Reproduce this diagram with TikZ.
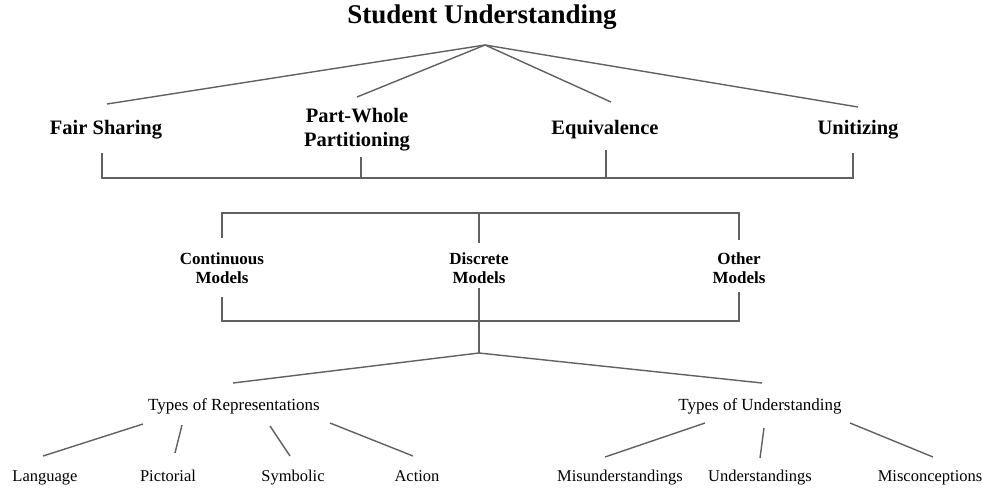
\documentclass[tikz,border=0pt]{standalone}
\usepackage{fontspec}
\setmainfont{Liberation Serif}
\begin{document}
\begin{tikzpicture}[x=1pt,y=-1pt,
  conn/.style={draw=black!62, line width=1.4pt},
  titlebox/.style={font=\fontsize{27}{30}\selectfont\bfseries, inner sep=0},
  topbox/.style={font=\fontsize{20.5}{24}\selectfont\bfseries, align=center, inner sep=0},
  modelbox/.style={font=\fontsize{17}{19}\selectfont\bfseries, align=center, inner sep=0},
  typebox/.style={font=\fontsize{17}{20}\selectfont, inner sep=0, anchor=base},
  leafbox/.style={font=\fontsize{16.5}{20}\selectfont, inner sep=0, anchor=base}]
\useasboundingbox (0,0) rectangle (995,488);

% title
\node[titlebox] (title) at (482,17) {Student Understanding};
\coordinate (apex) at (485,45);

% first level
\node[topbox] (fs) at (106,130) {Fair Sharing};
\node[topbox] (pw) at (357,130) {Part-Whole\\Partitioning};
\node[topbox] (eq) at (605,130) {Equivalence};
\node[topbox] (un) at (858,130) {Unitizing};

\coordinate (fs-in) at (107,104);
\coordinate (pw-in) at (357,97);
\coordinate (eq-in) at (611,102);
\coordinate (un-in) at (858,107);
\draw[conn] (apex) -- (fs-in);
\draw[conn] (apex) -- (pw-in);
\draw[conn] (apex) -- (eq-in);
\draw[conn] (apex) -- (un-in);

\coordinate (fs-out) at (102,153);
\coordinate (pw-out) at (361,157);
\coordinate (eq-out) at (606,150);
\coordinate (un-out) at (853,153);
\coordinate (fs-base) at (102,178);
\coordinate (pw-base) at (361,178);
\coordinate (eq-base) at (606,178);
\coordinate (un-base) at (853,178);
\draw[conn] (fs-out) -- (fs-base) -- (un-base) -- (un-out);
\draw[conn] (pw-out) -- (pw-base);
\draw[conn] (eq-out) -- (eq-base);

% models
\node[modelbox] (cm) at (222,268) {Continuous\\Models};
\node[modelbox] (dm) at (479,268) {Discrete\\Models};
\node[modelbox] (om) at (739,268) {Other\\Models};

\coordinate (cm-top) at (222,213);
\coordinate (dm-top) at (479,213);
\coordinate (om-top) at (739,213);
\coordinate (cm-in) at (222,238);
\coordinate (dm-in) at (479,243);
\coordinate (om-in) at (739,240);
\draw[conn] (cm-in) -- (cm-top) -- (om-top) -- (om-in);
\draw[conn] (dm-top) -- (dm-in);

\coordinate (cm-out) at (222,297);
\coordinate (dm-out) at (479,288);
\coordinate (om-out) at (739,292);
\coordinate (cm-base) at (222,321);
\coordinate (om-base) at (739,321);
\coordinate (hub) at (479,353);
\draw[conn] (cm-out) -- (cm-base) -- (om-base) -- (om-out);
\draw[conn] (dm-out) -- (hub);

% types
\node[typebox] (tr) at (234,410) {Types of Representations};
\node[typebox] (tu) at (760,410) {Types of Understanding};
\coordinate (tr-in) at (233,383);
\coordinate (tu-in) at (762,383);
\draw[conn] (hub) -- (tr-in);
\draw[conn] (hub) -- (tu-in);

% leaves
\node[leafbox] (lang) at (45,481) {Language};
\node[leafbox] (pict) at (168,481) {Pictorial};
\node[leafbox] (symb) at (293,481) {Symbolic};
\node[leafbox] (act) at (417,481) {Action};
\node[leafbox] (mis) at (620,481) {Misunderstandings};
\node[leafbox] (und) at (760,481) {Understandings};
\node[leafbox] (misc) at (930,481) {Misconceptions};

\coordinate (tr-a) at (143,424); \coordinate (lang-in) at (43,456);
\coordinate (tr-b) at (182,425); \coordinate (pict-in) at (175,453);
\coordinate (tr-c) at (270,426); \coordinate (symb-in) at (290,456);
\coordinate (tr-d) at (330,423); \coordinate (act-in) at (413,456);
\draw[conn] (tr-a) -- (lang-in);
\draw[conn] (tr-b) -- (pict-in);
\draw[conn] (tr-c) -- (symb-in);
\draw[conn] (tr-d) -- (act-in);

\coordinate (tu-a) at (705,423); \coordinate (mis-in) at (605,457);
\coordinate (tu-b) at (764,428); \coordinate (und-in) at (760,458);
\coordinate (tu-c) at (850,423); \coordinate (misc-in) at (933,457);
\draw[conn] (tu-a) -- (mis-in);
\draw[conn] (tu-b) -- (und-in);
\draw[conn] (tu-c) -- (misc-in);
\end{tikzpicture}
\end{document}
